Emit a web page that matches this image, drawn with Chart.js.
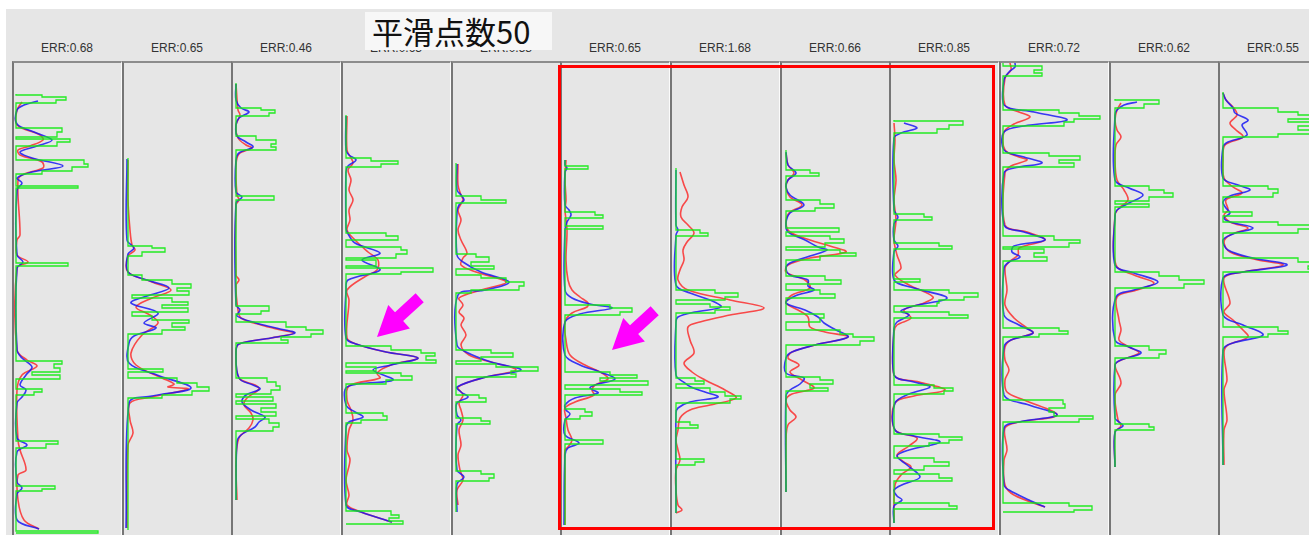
<!DOCTYPE html>
<html>
<head>
<meta charset="utf-8">
<script src="https://cdn.jsdelivr.net/npm/chart.js@4.4.1/dist/chart.umd.min.js"></script>
<style>
  html, body { margin: 0; padding: 0; width: 1309px; height: 535px; overflow: hidden; background: #ffffff; }
  #stage { position: absolute; left: 6px; top: 9px; width: 1303px; height: 526px; background: #e6e6e6; }
  .panel { position: absolute; top: 61px; height: 474px; width: 110px; box-sizing: border-box;
           border-left: 2px solid #767676; border-top: 2px solid #8c8c8c; border-right: 1px solid #fbfbfb;
           background: #e6e6e6; }
  .panel canvas { display: block; }
  .err { position: absolute; top: 41px; width: 110px; text-align: center;
         font: 12px "Liberation Sans", Arial, sans-serif; color: #333; }
  #title { position: absolute; left: 365px; top: 12px; width: 187px; height: 38px; background: #f7f7f7;
           font: 31px "Noto Sans CJK JP", "Noto Sans CJK SC", sans-serif; color: #111;
           line-height: 38px; padding-left: 7px; box-sizing: border-box; white-space: nowrap; }
  #focus { position: absolute; left: 558px; top: 65px; width: 437px; height: 465px;
           border: 3px solid #ff0000; box-sizing: border-box; pointer-events: none; }
</style>
</head>
<body>
<div id="stage"></div>
<script>
// Header text per track
const errLabels = ['ERR:0.68', 'ERR:0.65', 'ERR:0.46', 'ERR:0.63', 'ERR:0.58', 'ERR:0.65',
                   'ERR:1.68', 'ERR:0.66', 'ERR:0.85', 'ERR:0.72', 'ERR:0.62', 'ERR:0.55'];
const titleText = '平滑点数50';

// Curves are [depth, value] pairs. Green = raw blocky log, blue = smoothed, red = predicted.
const green1 = [[94,4],[95,30],[97,54],[100,44],[103,4],[128,50],[132,45],[137,4],[139,58],[142,45],[146,4],[160,72],[164,76],[167,60],[171,30],[174,4],[186,66],[188,4],[263,56],[266,4],[361,50],[364,42],[368,48],[372,20],[375,48],[379,4],[389,30],[392,22],[395,4],[441,46],[444,34],[448,4],[486,43],[489,30],[491,4],[531,86],[533,4]];
const blue1 = [[101,26],[105,12],[110,5],[124,5],[132,22],[140,40],[146,25],[152,8],[158,20],[166,51],[172,20],[178,5],[183,10],[190,5],[255,5],[262,11],[268,5],[350,5],[358,10],[367,20],[375,14],[385,8],[390,14],[397,10],[403,5],[438,5],[445,15],[452,5],[482,5],[488,10],[494,5],[520,5],[529,27]];
const red1 = [[102,10],[110,5],[125,5],[135,28],[140,31],[146,18],[150,6],[155,8],[162,30],[168,31],[174,12],[180,6],[235,8],[240,5],[255,5],[262,16],[268,5],[350,5],[360,15],[366,25],[375,10],[390,5],[440,6],[450,8],[470,14],[475,6],[500,6],[520,12],[529,27]];

const green2 = [[158,6],[246,30],[248,43],[252,20],[256,6],[275,20],[280,50],[284,69],[288,55],[291,67],[295,10],[298,50],[302,66],[305,40],[308,66],[312,10],[316,30],[320,67],[323,50],[327,63],[330,40],[334,6],[369,41],[372,6],[378,55],[383,75],[387,87],[391,70],[395,40],[398,6],[530,6]];
const blue2 = [[159,5],[240,5],[248,12],[254,6],[272,6],[280,25],[288,47],[296,25],[303,9],[313,36],[323,22],[328,34],[336,12],[343,7],[363,7],[375,35],[388,69],[396,30],[403,7],[528,4]];
const red2 = [[160,6],[200,6],[230,8],[245,10],[250,13],[256,6],[272,6],[282,30],[290,49],[298,30],[307,14],[315,28],[323,36],[335,20],[353,9],[365,14],[378,40],[384,52],[387,46],[389,66],[397,30],[403,8],[420,8],[433,11],[445,6],[528,5]];

const green3 = [[83,5],[108,30],[110,44],[113,38],[116,5],[136,25],[140,45],[144,40],[147,45],[150,5],[196,43],[200,5],[306,38],[311,30],[314,5],[322,55],[327,75],[330,92],[334,80],[337,50],[340,57],[343,5],[378,36],[382,45],[386,49],[390,40],[394,5],[397,42],[401,5],[404,45],[408,30],[412,45],[416,5],[419,38],[423,48],[427,42],[431,5],[500,5]];
const blue3 = [[84,5],[100,5],[108,10],[112,18],[118,8],[125,5],[136,6],[142,15],[147,22],[153,8],[160,5],[192,5],[197,11],[203,5],[305,5],[310,9],[316,6],[323,25],[328,45],[333,64],[338,40],[344,8],[352,5],[378,8],[385,22],[389,29],[395,15],[402,11],[410,20],[417,34],[422,28],[427,24],[435,10],[442,6],[500,5]];
const red3 = [[84,5],[110,7],[115,9],[125,5],[138,7],[145,15],[148,21],[154,8],[165,5],[195,6],[200,8],[205,5],[275,5],[280,8],[285,5],[310,7],[318,10],[325,30],[330,50],[333,63],[338,40],[344,8],[352,5],[378,8],[385,24],[389,28],[398,16],[405,13],[413,20],[420,22],[428,18],[438,8],[460,5],[500,6]];

const green4 = [[115,5],[158,30],[161,57],[164,40],[167,5],[233,45],[236,57],[240,5],[247,60],[250,66],[254,55],[258,5],[260,35],[266,5],[268,92],[272,60],[274,5],[346,50],[350,80],[353,94],[356,85],[360,95],[363,5],[367,35],[371,5],[373,60],[376,71],[380,45],[384,5],[413,42],[416,46],[420,20],[423,5],[511,50],[515,58],[518,48],[521,62],[524,5]];
const blue4 = [[116,5],[150,5],[155,8],[160,15],[166,7],[172,5],[228,5],[232,6],[243,14],[253,39],[260,21],[270,39],[280,7],[290,5],[338,5],[344,15],[352,45],[358,77],[365,50],[370,32],[380,52],[387,6],[405,5],[412,14],[417,22],[422,8],[428,5],[505,5],[512,20],[522,51]];
const red4 = [[116,6],[150,6],[158,10],[163,12],[170,7],[180,10],[190,8],[200,12],[210,8],[220,9],[230,6],[240,14],[252,27],[260,37],[270,36],[276,25],[290,6],[300,8],[338,6],[344,15],[352,45],[358,77],[365,50],[373,36],[378,39],[386,8],[400,6],[410,10],[420,12],[430,8],[450,6],[460,9],[480,5],[495,8],[505,6],[512,20],[522,51]];

const green5 = [[163,5],[196,30],[200,55],[203,5],[254,25],[257,38],[262,20],[266,43],[269,5],[275,30],[278,55],[282,73],[286,68],[290,20],[293,5],[350,40],[353,62],[357,30],[361,5],[364,45],[367,87],[371,60],[374,65],[377,5],[395,28],[398,35],[402,5],[418,30],[421,39],[424,5],[471,30],[474,43],[478,38],[481,5],[512,5]];
const blue5 = [[164,6],[190,6],[195,10],[200,13],[205,8],[212,6],[255,6],[262,12],[272,30],[282,58],[290,35],[295,7],[345,6],[352,15],[362,40],[370,70],[377,35],[387,6],[392,10],[397,17],[403,6],[415,6],[420,10],[425,6],[470,6],[477,13],[484,6],[512,6]];
const red5 = [[164,7],[185,7],[195,10],[200,12],[210,7],[220,10],[230,7],[240,10],[253,16],[258,12],[265,10],[272,25],[282,55],[290,30],[298,8],[305,12],[312,8],[318,13],[325,10],[335,15],[345,10],[355,18],[362,40],[370,65],[377,35],[387,7],[395,12],[403,8],[410,10],[420,12],[430,8],[445,10],[455,7],[470,9],[480,12],[490,6],[505,7]];

const green6 = [[160,5],[166,28],[169,5],[212,35],[215,43],[218,5],[226,43],[229,5],[305,50],[308,72],[312,60],[315,5],[372,50],[375,77],[378,40],[381,88],[385,5],[389,60],[392,82],[395,5],[409,25],[412,32],[416,20],[419,5],[440,43],[444,5],[525,5]];
const blue6 = [[160,5],[165,5],[168,7],[172,5],[205,5],[210,9],[215,11],[222,7],[230,5],[290,5],[298,12],[304,30],[308,52],[314,20],[322,5],[355,5],[365,20],[372,40],[379,55],[385,35],[388,30],[393,38],[398,15],[405,5],[410,6],[414,10],[420,5],[435,5],[443,19],[448,8],[455,5],[525,4]];
const red6 = [[160,6],[180,5],[200,6],[210,5],[230,7],[260,6],[280,8],[290,12],[297,20],[303,28],[307,27],[313,12],[322,5],[340,6],[355,10],[365,25],[373,42],[379,48],[385,35],[390,32],[395,34],[402,15],[408,5],[418,6],[430,8],[440,12],[447,8],[450,5],[470,5],[525,5]];

const green7 = [[168,6],[230,30],[233,38],[236,6],[290,45],[293,68],[297,55],[300,6],[304,40],[307,60],[310,45],[313,6],[378,25],[381,34],[384,6],[388,40],[392,55],[396,71],[399,60],[403,6],[422,20],[425,28],[428,6],[459,34],[462,25],[465,6],[513,6]];
const blue7 = [[170,6],[225,6],[230,8],[235,6],[285,6],[293,20],[300,40],[307,51],[312,25],[317,8],[322,6],[375,6],[383,15],[387,21],[392,35],[397,48],[402,20],[408,8],[413,6],[513,6]];
const red7 = [[172,10],[185,14],[197,18],[207,12],[217,11],[225,18],[233,24],[242,17],[250,13],[260,14],[270,10],[280,8],[290,18],[300,60],[308,94],[315,60],[322,30],[327,18],[340,20],[353,24],[363,14],[372,22],[380,35],[390,55],[398,66],[405,40],[410,20],[418,10],[430,8],[440,6],[450,8],[460,10],[470,6],[490,6],[505,8],[510,12],[513,6]];

const green8 = [[150,6],[170,30],[173,39],[176,6],[200,40],[204,54],[208,35],[211,6],[228,59],[232,6],[236,50],[239,64],[243,45],[247,6],[250,60],[253,76],[256,40],[260,6],[276,45],[280,61],[284,6],[290,40],[294,55],[298,6],[314,44],[318,40],[322,6],[330,60],[334,73],[337,94],[341,80],[345,6],[377,40],[380,53],[384,30],[388,48],[391,6],[492,6]];
const blue8 = [[152,6],[165,8],[173,16],[180,8],[187,6],[195,10],[205,24],[213,10],[223,6],[232,8],[240,25],[247,38],[250,47],[256,30],[263,10],[268,6],[275,10],[280,28],[286,28],[290,34],[296,15],[303,6],[310,25],[317,38],[323,44],[330,56],[337,68],[345,35],[352,12],[358,6],[373,6],[378,24],[384,20],[390,10],[396,6],[492,6]];
const red8 = [[153,6],[165,8],[173,14],[180,8],[187,6],[197,10],[205,22],[213,9],[223,6],[232,10],[240,30],[246,50],[252,66],[258,30],[265,8],[272,6],[280,25],[288,30],[295,12],[303,6],[310,18],[317,28],[327,30],[332,45],[337,68],[345,35],[352,12],[358,8],[365,19],[372,10],[380,22],[388,34],[394,12],[400,6],[410,10],[417,16],[425,8],[440,6],[492,6]];

const green9 = [[120,5],[121,74],[125,60],[129,48],[133,5],[214,35],[217,43],[220,5],[243,50],[246,63],[249,5],[279,31],[282,5],[290,60],[293,89],[297,75],[300,50],[303,48],[306,5],[312,60],[315,79],[318,5],[385,45],[388,64],[391,55],[394,5],[434,50],[437,73],[440,60],[443,40],[446,5],[458,45],[462,60],[466,35],[470,5],[474,50],[478,63],[481,5],[503,60],[506,68],[509,5],[523,5]];
const blue9 = [[123,15],[128,28],[133,12],[138,5],[210,5],[217,9],[224,5],[240,5],[246,9],[252,5],[280,5],[288,25],[298,58],[306,25],[311,12],[315,20],[322,8],[328,5],[375,5],[382,25],[387,41],[394,20],[403,6],[430,6],[436,25],[442,51],[450,20],[456,8],[465,18],[477,31],[484,15],[490,5],[496,8],[500,13],[506,5],[523,5]];
const red9 = [[123,5],[140,6],[160,5],[180,7],[200,5],[220,7],[240,5],[255,8],[268,12],[275,6],[285,20],[297,44],[303,35],[310,15],[318,22],[325,8],[332,5],[375,5],[382,30],[390,56],[396,25],[403,6],[430,6],[438,28],[446,20],[455,8],[462,15],[467,22],[475,12],[485,6],[523,5]];

const green10 = [[63,4],[66,43],[70,35],[73,43],[76,4],[110,60],[113,80],[116,101],[119,75],[122,65],[126,4],[153,50],[156,81],[160,60],[163,75],[167,4],[236,55],[240,81],[243,70],[247,4],[249,45],[253,35],[257,48],[261,4],[328,60],[331,69],[334,40],[337,4],[400,64],[404,66],[408,50],[412,55],[416,94],[419,80],[422,4],[503,70],[506,93],[510,75],[512,4]];
const blue10 = [[63,16],[67,16],[72,10],[80,5],[105,5],[112,35],[120,68],[126,25],[132,5],[150,5],[157,25],[163,43],[168,15],[173,5],[225,5],[232,25],[240,46],[246,15],[252,13],[257,21],[262,10],[268,5],[315,5],[325,20],[333,34],[340,12],[347,5],[395,5],[405,30],[415,58],[422,20],[428,5],[485,5],[490,10],[500,30],[507,46]];
const red10 = [[63,11],[70,12],[78,6],[105,6],[112,20],[117,31],[124,15],[132,5],[150,6],[157,20],[160,28],[166,12],[173,6],[225,6],[232,28],[240,46],[248,20],[255,19],[262,10],[268,6],[290,8],[305,6],[318,15],[328,28],[333,34],[340,12],[347,6],[360,6],[370,10],[380,6],[392,8],[400,25],[415,58],[422,20],[428,6],[450,8],[460,5],[485,6],[495,15],[507,46]];

const green11 = [[99,6],[100,50],[104,35],[108,6],[186,40],[190,55],[193,64],[197,40],[201,6],[204,40],[207,6],[272,50],[276,70],[280,95],[284,75],[288,6],[346,40],[350,57],[354,50],[358,6],[424,40],[427,45],[430,6],[467,6]];
const blue11 = [[102,28],[105,15],[110,8],[115,6],[180,6],[188,20],[195,34],[203,20],[210,8],[216,6],[265,6],[273,25],[282,49],[290,25],[297,7],[340,6],[347,20],[353,32],[360,12],[365,6],[418,6],[422,10],[426,14],[432,6],[467,6]];
const red11 = [[103,12],[110,8],[120,6],[130,8],[137,12],[145,7],[160,6],[180,8],[190,15],[200,19],[208,10],[215,6],[265,7],[275,25],[283,45],[290,28],[297,8],[320,10],[330,12],[340,10],[347,20],[353,30],[360,12],[365,6],[383,12],[395,6],[420,9],[426,12],[432,6],[467,6]];

const green12 = [[92,5],[108,60],[112,80],[115,92],[119,70],[122,112],[126,80],[130,102],[134,60],[137,5],[186,50],[189,60],[193,55],[197,5],[212,34],[216,5],[222,60],[225,94],[229,80],[233,5],[258,80],[262,102],[266,90],[269,112],[272,5],[327,60],[331,70],[334,50],[337,5],[465,5]];
const blue12 = [[93,5],[100,8],[108,15],[113,17],[120,30],[125,24],[135,29],[142,10],[147,5],[178,5],[185,20],[190,32],[196,12],[202,5],[208,8],[213,12],[218,6],[222,12],[228,35],[234,15],[240,5],[250,10],[258,35],[265,69],[272,25],[278,5],[315,5],[325,25],[335,45],[343,15],[350,5],[465,5]];
const red12 = [[93,5],[100,8],[107,15],[115,19],[123,12],[130,18],[137,25],[145,7],[160,5],[178,6],[187,15],[193,24],[200,8],[210,10],[215,6],[222,12],[228,30],[235,12],[242,6],[252,12],[260,40],[265,65],[272,25],[278,6],[303,12],[312,6],[320,15],[330,25],[337,30],[345,10],[352,6],[380,9],[390,6],[420,9],[430,6],[465,6]];

// Arrow call-outs: [track index, depth, value] at the arrow tip
const pointerTargets = [[3, 337, 36], [5, 350, 52]];

const greens = [green1, green2, green3, green4, green5, green6, green7, green8, green9, green10, green11, green12];
const blues  = [blue1, blue2, blue3, blue4, blue5, blue6, blue7, blue8, blue9, blue10, blue11, blue12];
const reds   = [red1, red2, red3, red4, red5, red6, red7, red8, red9, red10, red11, red12];

// Track axis ranges (value across, depth downward)
const VALUE_MIN = 2, VALUE_MAX = 109;
const DEPTH_TOP = 63, DEPTH_BOTTOM = 535;

const toXY = arr => arr.map(([d, v]) => ({ x: v, y: d }));

// Draws a thick magenta arrow whose tip sits on a (value, depth) point
const pointerPlugin = {
  id: 'pointer',
  afterDatasetsDraw(chart, args, opts) {
    if (!opts || opts.depth == null) return;
    const { ctx, scales } = chart;
    const tx = scales.x.getPixelForValue(opts.value);
    const ty = scales.y.getPixelForValue(opts.depth);
    const total = 58, headLen = 30, headHalf = 16, shaftHalf = 6;
    ctx.save();
    ctx.translate(tx, ty);
    ctx.rotate(Math.atan2(0.92, -1));
    ctx.beginPath();
    ctx.moveTo(0, 0);
    ctx.lineTo(-headLen, -headHalf);
    ctx.lineTo(-headLen, -shaftHalf);
    ctx.lineTo(-total, -shaftHalf);
    ctx.lineTo(-total, shaftHalf);
    ctx.lineTo(-headLen, shaftHalf);
    ctx.lineTo(-headLen, headHalf);
    ctx.closePath();
    ctx.fillStyle = '#ff00ff';
    ctx.fill();
    ctx.restore();
  }
};

const body = document.body;
const pitch = 109.67, firstLeft = 12;

greens.forEach((g, i) => {
  const left = Math.round(firstLeft + i * pitch);

  const lab = document.createElement('div');
  lab.className = 'err';
  lab.style.left = left + 'px';
  lab.textContent = errLabels[i];
  body.appendChild(lab);

  const panel = document.createElement('div');
  panel.className = 'panel';
  panel.style.left = left + 'px';
  const cv = document.createElement('canvas');
  cv.width = 107; cv.height = 472;
  panel.appendChild(cv);
  body.appendChild(panel);

  const target = pointerTargets.find(p => p[0] === i);

  new Chart(cv, {
    type: 'scatter',
    data: {
      datasets: [
        { data: toXY(g), showLine: true, stepped: 'after', borderColor: 'rgba(20,235,20,0.92)', borderWidth: 1.3, pointRadius: 0 },
        { data: toXY(blues[i]), showLine: true, tension: 0.35, borderColor: 'rgba(25,25,245,0.85)', borderWidth: 1.6, pointRadius: 0 },
        { data: toXY(reds[i]), showLine: true, tension: 0.35, borderColor: 'rgba(250,45,45,0.85)', borderWidth: 1.6, pointRadius: 0 }
      ]
    },
    options: {
      responsive: false,
      animation: false,
      events: [],
      layout: { padding: 0 },
      scales: {
        x: { type: 'linear', min: VALUE_MIN, max: VALUE_MAX, display: false },
        y: { type: 'linear', min: DEPTH_TOP, max: DEPTH_BOTTOM, reverse: true, display: false }
      },
      plugins: {
        legend: { display: false },
        tooltip: { enabled: false },
        pointer: target ? { depth: target[1], value: target[2] } : {}
      }
    },
    plugins: [pointerPlugin]
  });
});

const title = document.createElement('div');
title.id = 'title';
title.textContent = titleText;
body.appendChild(title);

const focus = document.createElement('div');
focus.id = 'focus';
body.appendChild(focus);
</script>
</body>
</html>
